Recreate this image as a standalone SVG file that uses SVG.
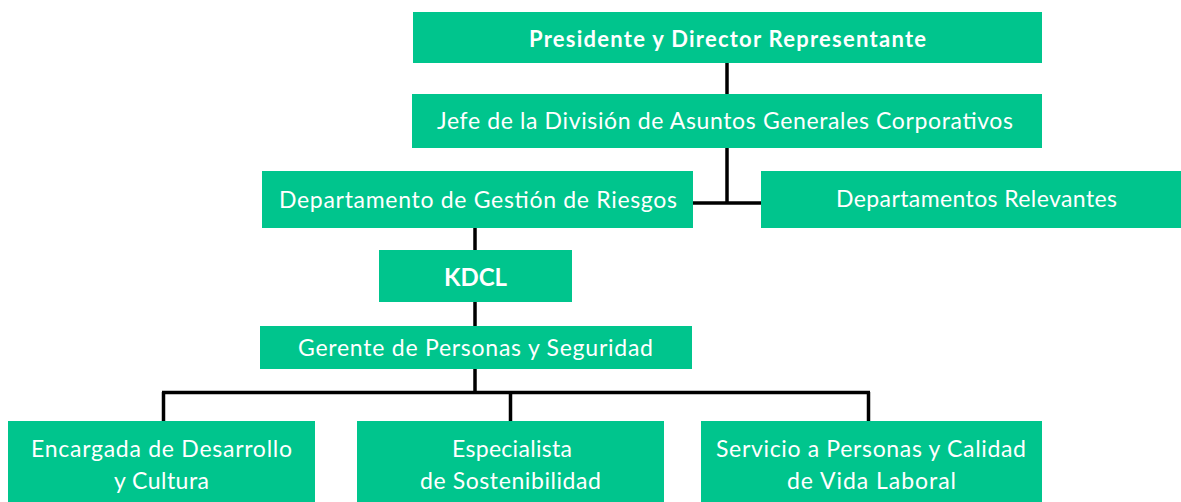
<svg xmlns="http://www.w3.org/2000/svg" width="1181" height="502" viewBox="0 0 1181 502">
<style>
.box{fill:#00C58D}
.t{font-family:Lato,"Noto Sans","Liberation Sans",sans-serif;font-size:23px;fill:#ffffff;text-anchor:middle}
.b{font-weight:bold;font-size:22px}
.k{font-size:24px}
.ln{stroke:#000;stroke-width:3.5;fill:none}
</style>
<rect width="1181" height="502" fill="#ffffff"/>
<g id="connectors">
<line class="ln" x1="727" y1="62" x2="727" y2="95"/>
<line class="ln" x1="727" y1="147" x2="727" y2="203"/>
<line class="ln" x1="692" y1="203" x2="762" y2="203"/>
<line class="ln" x1="475" y1="227" x2="475" y2="251"/>
<line class="ln" x1="475" y1="302" x2="475" y2="327"/>
<line class="ln" x1="475" y1="369" x2="475" y2="393"/>
<line class="ln" x1="162" y1="392.5" x2="870" y2="392.5"/>
<line class="ln" x1="163.5" y1="392" x2="163.5" y2="422"/>
<line class="ln" x1="510.5" y1="392" x2="510.5" y2="422"/>
<line class="ln" x1="868.5" y1="392" x2="868.5" y2="422"/>
</g>
<g id="presidente">
<rect class="box" x="413" y="12" width="629" height="51"/>
<text class="t b" x="727.5" y="47" textLength="397">Presidente y Director Representante</text>
</g>
<g id="jefe">
<rect class="box" x="412" y="94" width="630" height="54"/>
<text class="t" x="725" y="129" textLength="576">Jefe de la División de Asuntos Generales Corporativos</text>
</g>
<g id="riesgos">
<rect class="box" x="262" y="171" width="431" height="57"/>
<text class="t" x="478" y="208" textLength="398">Departamento de Gestión de Riesgos</text>
</g>
<g id="relevantes">
<rect class="box" x="761" y="171" width="420" height="57"/>
<text class="t" x="976.5" y="207" textLength="281">Departamentos Relevantes</text>
</g>
<g id="kdcl">
<rect class="box" x="379" y="250" width="193" height="52"/>
<text class="t b k" x="475.5" y="285.5" textLength="63">KDCL</text>
</g>
<g id="gerente">
<rect class="box" x="260" y="326" width="432" height="43"/>
<text class="t" x="475.5" y="355.5" textLength="355">Gerente de Personas y Seguridad</text>
</g>
<g id="encargada">
<rect class="box" x="8" y="421" width="307" height="81"/>
<text class="t" x="161.5" y="457" textLength="261">Encargada de Desarrollo</text>
<text class="t" x="161.5" y="488.5" textLength="95">y Cultura</text>
</g>
<g id="especialista">
<rect class="box" x="357" y="421" width="307" height="81"/>
<text class="t" x="512" y="457" textLength="120">Especialista</text>
<text class="t" x="510.5" y="488.5" textLength="181">de Sostenibilidad</text>
</g>
<g id="servicio">
<rect class="box" x="701" y="421" width="341" height="81"/>
<text class="t" x="871" y="457" textLength="310">Servicio a Personas y Calidad</text>
<text class="t" x="871.5" y="488.5" textLength="169">de Vida Laboral</text>
</g>
</svg>
